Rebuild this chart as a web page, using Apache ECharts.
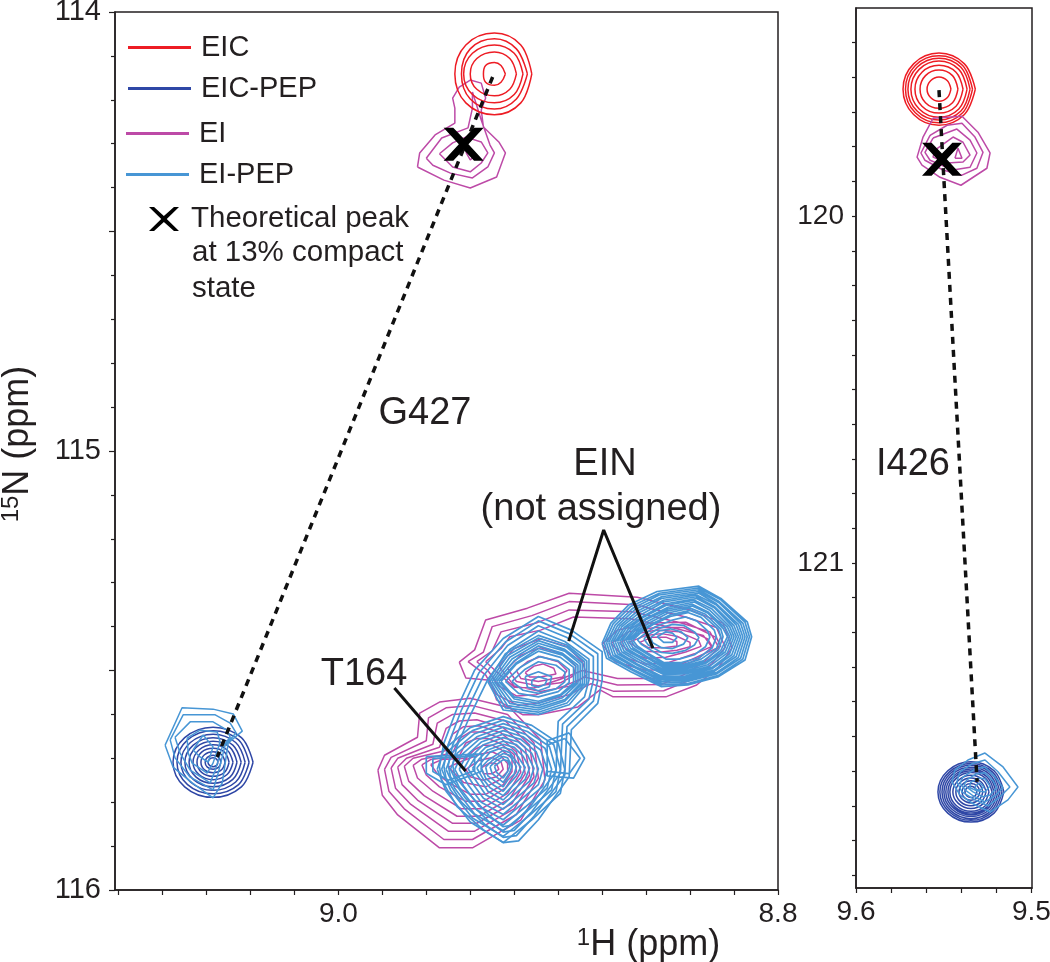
<!DOCTYPE html>
<html><head><meta charset="utf-8">
<style>html,body{margin:0;padding:0;background:#fff}#c{width:1050px;height:962px}</style>
<script src="https://cdn.jsdelivr.net/npm/echarts@6/dist/echarts.min.js"></script>
</head><body><div id="c"></div>
<script>
// All contours are [1H ppm, 15N ppm] vertices.
const eicLeft=[
[[8.924,114.141],[8.926,114.122],[8.929,114.115],[8.933,114.122],[8.934,114.141],[8.933,114.160],[8.929,114.167],[8.926,114.160]],
[[8.919,114.141],[8.922,114.106],[8.929,114.091],[8.937,114.106],[8.940,114.141],[8.937,114.176],[8.929,114.191],[8.922,114.176]],
[[8.916,114.141],[8.920,114.094],[8.929,114.075],[8.939,114.094],[8.943,114.141],[8.939,114.188],[8.929,114.207],[8.920,114.188]],
[[8.914,114.141],[8.919,114.084],[8.929,114.061],[8.940,114.084],[8.944,114.141],[8.940,114.198],[8.929,114.221],[8.919,114.198]],
[[8.912,114.141],[8.917,114.075],[8.929,114.048],[8.942,114.075],[8.947,114.141],[8.942,114.207],[8.929,114.234],[8.917,114.207]]];
const eiLeftPeak=[
[[8.964,114.353],[8.963,114.321],[8.956,114.280],[8.947,114.253],[8.947,114.219],[8.948,114.196],[8.945,114.171],[8.940,114.155],[8.935,114.162],[8.933,114.196],[8.935,114.223],[8.934,114.262],[8.927,114.296],[8.924,114.321],[8.928,114.376],[8.940,114.401],[8.952,114.383]],
[[8.960,114.333],[8.953,114.287],[8.941,114.264],[8.939,114.219],[8.939,114.182],[8.935,114.246],[8.931,114.303],[8.929,114.321],[8.932,114.353],[8.939,114.378],[8.949,114.367],[8.957,114.349]],
[[8.954,114.323],[8.948,114.298],[8.942,114.285],[8.935,114.296],[8.932,114.321],[8.935,114.344],[8.940,114.364],[8.948,114.353]],
[[8.942,114.319],[8.940,114.337],[8.938,114.328],[8.941,114.310]]];
const eicPepLeft=[
[[9.0388,115.709],[9.0441,115.653],[9.0570,115.629],[9.0699,115.653],[9.0752,115.709],[9.0699,115.765],[9.0570,115.789],[9.0441,115.765]],
[[9.0406,115.709],[9.0454,115.658],[9.0570,115.637],[9.0686,115.658],[9.0734,115.709],[9.0686,115.760],[9.0570,115.781],[9.0454,115.760]],
[[9.0424,115.709],[9.0467,115.664],[9.0570,115.645],[9.0673,115.664],[9.0716,115.709],[9.0673,115.754],[9.0570,115.773],[9.0467,115.754]],
[[9.0442,115.709],[9.0480,115.670],[9.0570,115.653],[9.0660,115.670],[9.0698,115.709],[9.0660,115.748],[9.0570,115.765],[9.0480,115.748]],
[[9.0461,115.709],[9.0493,115.675],[9.0570,115.661],[9.0647,115.675],[9.0679,115.709],[9.0647,115.743],[9.0570,115.757],[9.0493,115.743]],
[[9.0479,115.709],[9.0506,115.681],[9.0570,115.669],[9.0634,115.681],[9.0661,115.709],[9.0634,115.737],[9.0570,115.749],[9.0506,115.737]],
[[9.0497,115.709],[9.0518,115.686],[9.0570,115.677],[9.0622,115.686],[9.0643,115.709],[9.0622,115.732],[9.0570,115.741],[9.0518,115.732]],
[[9.0515,115.709],[9.0531,115.692],[9.0570,115.685],[9.0609,115.692],[9.0625,115.709],[9.0609,115.726],[9.0570,115.733],[9.0531,115.726]],
[[9.0534,115.709],[9.0544,115.698],[9.0570,115.693],[9.0596,115.698],[9.0606,115.709],[9.0596,115.720],[9.0570,115.725],[9.0544,115.720]],
[[9.0547,115.709],[9.0554,115.702],[9.0570,115.699],[9.0586,115.702],[9.0593,115.709],[9.0586,115.716],[9.0570,115.719],[9.0554,115.716]]];
const eiPepLeftPeak=[
[[9.0788,115.670],[9.0711,115.585],[9.0570,115.588],[9.0478,115.599],[9.0437,115.638],[9.0501,115.665],[9.0528,115.756],[9.0570,115.790],[9.0665,115.756],[9.0752,115.720]],
[[9.0765,115.658],[9.0706,115.601],[9.0560,115.601],[9.0492,115.620],[9.0465,115.642],[9.0515,115.670],[9.0547,115.734],[9.0570,115.772],[9.0674,115.743],[9.0743,115.699]],
[[9.0743,115.652],[9.0674,115.617],[9.0570,115.617],[9.0506,115.636],[9.0492,115.652],[9.0528,115.674],[9.0560,115.727],[9.0583,115.756],[9.0674,115.727],[9.0720,115.688]],
[[9.0688,115.654],[9.0629,115.636],[9.0551,115.640],[9.0538,115.663],[9.0570,115.711],[9.0597,115.734],[9.0665,115.711],[9.0683,115.688]],
[[9.0661,115.681],[9.0615,115.647],[9.0570,115.674],[9.0592,115.709],[9.0629,115.697]]];
const eiT164=[
[[8.982,115.727],[8.979,115.693],[8.964,115.652],[8.963,115.597],[8.954,115.572],[8.940,115.563],[8.922,115.585],[8.908,115.658],[8.906,115.749],[8.917,115.841],[8.939,115.904],[8.954,115.904],[8.973,115.829],[8.980,115.784]],
[[8.979,115.725],[8.976,115.698],[8.960,115.660],[8.959,115.608],[8.951,115.585],[8.939,115.580],[8.923,115.600],[8.911,115.665],[8.909,115.745],[8.919,115.828],[8.939,115.885],[8.952,115.885],[8.970,115.815],[8.977,115.775]],
[[8.976,115.722],[8.973,115.700],[8.957,115.668],[8.955,115.620],[8.948,115.600],[8.938,115.597],[8.924,115.615],[8.913,115.670],[8.911,115.742],[8.920,115.815],[8.938,115.866],[8.950,115.866],[8.967,115.805],[8.974,115.768]],
[[8.973,115.720],[8.969,115.700],[8.954,115.675],[8.951,115.632],[8.945,115.615],[8.937,115.612],[8.925,115.630],[8.915,115.675],[8.913,115.738],[8.921,115.803],[8.937,115.848],[8.948,115.848],[8.964,115.795],[8.971,115.760]],
[[8.970,115.718],[8.966,115.700],[8.951,115.682],[8.948,115.645],[8.943,115.628],[8.936,115.626],[8.926,115.642],[8.917,115.680],[8.915,115.735],[8.922,115.792],[8.936,115.832],[8.946,115.832],[8.961,115.785],[8.968,115.752]],
[[8.966,115.716],[8.962,115.702],[8.948,115.688],[8.945,115.655],[8.940,115.640],[8.934,115.640],[8.926,115.655],[8.919,115.685],[8.917,115.732],[8.923,115.780],[8.935,115.815],[8.944,115.815],[8.957,115.775],[8.964,115.745]],
[[8.962,115.715],[8.958,115.703],[8.945,115.695],[8.942,115.665],[8.937,115.655],[8.932,115.655],[8.926,115.667],[8.920,115.692],[8.919,115.730],[8.924,115.768],[8.934,115.798],[8.942,115.798],[8.954,115.765],[8.960,115.738]],
[[8.958,115.714],[8.953,115.703],[8.942,115.700],[8.938,115.680],[8.934,115.670],[8.930,115.670],[8.926,115.680],[8.921,115.700],[8.921,115.730],[8.925,115.760],[8.933,115.782],[8.940,115.782],[8.950,115.755],[8.955,115.735]],
[[8.950,115.720],[8.943,115.705],[8.935,115.690],[8.930,115.685],[8.926,115.695],[8.923,115.712],[8.923,115.730],[8.927,115.750],[8.933,115.765],[8.943,115.755]],
[[8.942,115.725],[8.936,115.705],[8.930,115.698],[8.926,115.708],[8.925,115.725],[8.928,115.742],[8.934,115.750],[8.940,115.742]],
[[8.935,115.722],[8.931,115.710],[8.928,115.713],[8.927,115.725],[8.930,115.735],[8.934,115.735]]];
const eiUpper=[
[[8.945,115.481],[8.938,115.453],[8.933,115.385],[8.914,115.358],[8.895,115.324],[8.864,115.333],[8.840,115.362],[8.825,115.392],[8.821,115.449],[8.827,115.492],[8.837,115.533],[8.851,115.560],[8.875,115.560],[8.881,115.544],[8.891,115.583],[8.909,115.601],[8.916,115.601],[8.928,115.567],[8.931,115.522],[8.942,115.517]],
[[8.941,115.480],[8.934,115.458],[8.930,115.400],[8.912,115.375],[8.895,115.343],[8.865,115.350],[8.842,115.378],[8.828,115.402],[8.824,115.447],[8.830,115.484],[8.840,115.522],[8.852,115.546],[8.875,115.547],[8.885,115.530],[8.895,115.555],[8.910,115.575],[8.918,115.580],[8.928,115.555],[8.933,115.510]],
[[8.937,115.480],[8.930,115.455],[8.926,115.412],[8.910,115.392],[8.895,115.362],[8.866,115.366],[8.844,115.392],[8.831,115.412],[8.827,115.447],[8.833,115.478],[8.843,115.510],[8.853,115.532],[8.873,115.533],[8.888,115.515],[8.897,115.535],[8.910,115.555],[8.919,115.558],[8.927,115.535],[8.932,115.500]],
[[8.933,115.480],[8.926,115.450],[8.922,115.423],[8.908,115.408],[8.893,115.378],[8.867,115.382],[8.846,115.405],[8.834,115.420],[8.830,115.447],[8.836,115.472],[8.846,115.498],[8.855,115.518],[8.873,115.518],[8.889,115.500],[8.899,115.520],[8.911,115.540],[8.920,115.538],[8.926,115.512]],
[[8.927,115.490],[8.920,115.450],[8.908,115.428],[8.896,115.445],[8.889,115.480],[8.887,115.510],[8.894,115.535],[8.908,115.548],[8.920,115.535]],
[[8.923,115.495],[8.917,115.465],[8.908,115.448],[8.898,115.462],[8.892,115.490],[8.893,115.512],[8.899,115.528],[8.909,115.535],[8.919,115.525]],
[[8.919,115.500],[8.914,115.480],[8.908,115.468],[8.900,115.480],[8.896,115.500],[8.898,115.515],[8.909,115.525],[8.917,115.518]],
[[8.915,115.505],[8.911,115.490],[8.907,115.485],[8.902,115.495],[8.901,115.508],[8.908,115.515],[8.913,115.515]],
[[8.880,115.440],[8.873,115.408],[8.858,115.392],[8.842,115.390],[8.828,115.425],[8.826,115.445],[8.835,115.465],[8.848,115.495],[8.860,115.500],[8.874,115.480]],
[[8.876,115.438],[8.868,115.412],[8.856,115.402],[8.843,115.402],[8.832,115.428],[8.830,115.445],[8.838,115.462],[8.850,115.482],[8.860,115.486],[8.870,115.470]],
[[8.872,115.437],[8.864,115.416],[8.855,115.408],[8.845,115.412],[8.836,115.432],[8.835,115.445],[8.842,115.458],[8.851,115.470],[8.860,115.472],[8.867,115.460]],
[[8.868,115.436],[8.860,115.420],[8.853,115.416],[8.846,115.422],[8.840,115.436],[8.840,115.446],[8.846,115.454],[8.853,115.458],[8.861,115.456]],
[[8.863,115.436],[8.857,115.424],[8.851,115.424],[8.846,115.434],[8.846,115.444],[8.852,115.448],[8.859,115.448]]];
const eiPepEnvelope=[
[[8.954,115.719],[8.952,115.666],[8.946,115.586],[8.938,115.499],[8.925,115.427],[8.909,115.377],[8.894,115.408],[8.880,115.457],[8.880,115.522],[8.882,115.575],[8.894,115.635],[8.895,115.742],[8.909,115.840],[8.918,115.888],[8.925,115.892],[8.934,115.863],[8.946,115.810],[8.953,115.749]],
[[8.952,115.718],[8.950,115.668],[8.944,115.590],[8.936,115.505],[8.924,115.435],[8.909,115.387],[8.895,115.416],[8.882,115.462],[8.882,115.522],[8.884,115.570],[8.896,115.628],[8.897,115.738],[8.911,115.832],[8.919,115.876],[8.925,115.880],[8.933,115.852],[8.944,115.800],[8.951,115.745]],
[[8.950,115.716],[8.948,115.670],[8.942,115.596],[8.934,115.512],[8.923,115.443],[8.909,115.398],[8.896,115.425],[8.884,115.468],[8.884,115.522],[8.886,115.565],[8.898,115.622],[8.899,115.734],[8.912,115.822],[8.920,115.864],[8.925,115.868],[8.932,115.842],[8.942,115.792],[8.949,115.742]],
[[8.948,115.715],[8.946,115.672],[8.940,115.602],[8.932,115.520],[8.922,115.452],[8.909,115.410],[8.897,115.434],[8.886,115.474],[8.886,115.522],[8.888,115.560],[8.900,115.616],[8.901,115.730],[8.913,115.812],[8.921,115.852],[8.925,115.856],[8.931,115.832],[8.940,115.784],[8.947,115.740]]];
const eiPepT164=[
[[8.955,115.725],[8.952,115.680],[8.940,115.630],[8.925,115.605],[8.912,115.625],[8.900,115.665],[8.897,115.725],[8.899,115.780],[8.912,115.840],[8.925,115.892],[8.940,115.845],[8.951,115.775]],
[[8.953,115.725],[8.950,115.683],[8.939,115.637],[8.925,115.613],[8.913,115.632],[8.902,115.669],[8.899,115.725],[8.901,115.776],[8.913,115.830],[8.925,115.878],[8.939,115.836],[8.949,115.772]],
[[8.951,115.725],[8.948,115.686],[8.938,115.644],[8.925,115.621],[8.914,115.639],[8.904,115.673],[8.901,115.725],[8.903,115.772],[8.914,115.820],[8.925,115.865],[8.938,115.827],[8.947,115.769]],
[[8.949,115.725],[8.946,115.689],[8.937,115.651],[8.925,115.629],[8.915,115.645],[8.906,115.677],[8.903,115.725],[8.905,115.768],[8.915,115.811],[8.925,115.852],[8.937,115.818],[8.945,115.766]],
[[8.947,115.725],[8.944,115.692],[8.936,115.657],[8.925,115.637],[8.916,115.651],[8.908,115.681],[8.905,115.725],[8.907,115.764],[8.916,115.802],[8.925,115.840],[8.936,115.809],[8.943,115.763]],
[[8.945,115.725],[8.942,115.695],[8.935,115.663],[8.925,115.645],[8.917,115.657],[8.910,115.685],[8.907,115.725],[8.909,115.760],[8.917,115.794],[8.925,115.828],[8.935,115.800],[8.941,115.760]],
[[8.943,115.725],[8.940,115.698],[8.934,115.669],[8.925,115.653],[8.918,115.663],[8.912,115.689],[8.909,115.724],[8.911,115.756],[8.918,115.786],[8.925,115.816],[8.934,115.791],[8.939,115.757]],
[[8.941,115.724],[8.938,115.700],[8.933,115.675],[8.925,115.661],[8.919,115.669],[8.914,115.692],[8.911,115.723],[8.913,115.752],[8.919,115.778],[8.925,115.805],[8.933,115.783],[8.937,115.754]],
[[8.939,115.723],[8.936,115.702],[8.932,115.681],[8.925,115.668],[8.920,115.675],[8.916,115.695],[8.913,115.722],[8.915,115.748],[8.920,115.771],[8.925,115.795],[8.932,115.775],[8.935,115.751]],
[[8.937,115.722],[8.934,115.704],[8.931,115.686],[8.925,115.675],[8.921,115.681],[8.918,115.698],[8.915,115.721],[8.917,115.744],[8.921,115.764],[8.925,115.785],[8.931,115.767],[8.934,115.748]],
[[8.935,115.721],[8.932,115.705],[8.925,115.682],[8.922,115.687],[8.920,115.701],[8.917,115.720],[8.919,115.740],[8.922,115.757],[8.925,115.775],[8.930,115.759],[8.933,115.745]],
[[8.933,115.720],[8.930,115.705],[8.925,115.689],[8.922,115.693],[8.919,115.719],[8.920,115.736],[8.923,115.750],[8.925,115.765],[8.929,115.751],[8.932,115.740]],
[[8.931,115.719],[8.928,115.705],[8.925,115.696],[8.923,115.699],[8.921,115.718],[8.922,115.732],[8.925,115.755],[8.928,115.743],[8.930,115.735]],
[[8.929,115.718],[8.925,115.703],[8.923,115.706],[8.922,115.718],[8.923,115.730],[8.925,115.745],[8.928,115.732]],
[[8.960,115.696],[8.960,115.734],[8.951,115.760],[8.935,115.730],[8.935,115.690]],
[[8.957,115.700],[8.957,115.730],[8.950,115.750],[8.938,115.728],[8.938,115.695]],
[[8.895,115.642],[8.888,115.700],[8.893,115.745],[8.905,115.740],[8.905,115.660]],
[[8.897,115.655],[8.890,115.700],[8.895,115.735],[8.905,115.730],[8.905,115.670]]];
const eiPepMiddle=[
[[8.932,115.525],[8.924,115.462],[8.909,115.420],[8.896,115.442],[8.887,115.478],[8.887,115.530],[8.895,115.578],[8.909,115.600],[8.925,115.590]],
[[8.931,115.525],[8.923,115.466],[8.909,115.426],[8.896,115.447],[8.888,115.480],[8.888,115.530],[8.896,115.574],[8.909,115.595],[8.924,115.585]],
[[8.930,115.525],[8.922,115.470],[8.909,115.432],[8.897,115.452],[8.889,115.483],[8.889,115.530],[8.897,115.570],[8.909,115.590],[8.923,115.580]],
[[8.929,115.525],[8.921,115.474],[8.909,115.438],[8.897,115.456],[8.890,115.485],[8.890,115.530],[8.897,115.566],[8.909,115.585],[8.922,115.575]],
[[8.928,115.525],[8.920,115.478],[8.909,115.444],[8.898,115.461],[8.891,115.488],[8.891,115.529],[8.898,115.562],[8.909,115.580],[8.921,115.570]],
[[8.927,115.525],[8.919,115.482],[8.909,115.450],[8.898,115.465],[8.892,115.490],[8.892,115.529],[8.899,115.558],[8.909,115.575],[8.920,115.565]],
[[8.926,115.525],[8.919,115.485],[8.909,115.456],[8.899,115.470],[8.893,115.493],[8.893,115.528],[8.899,115.555],[8.909,115.570],[8.920,115.560]],
[[8.924,115.525],[8.917,115.492],[8.909,115.468],[8.900,115.478],[8.895,115.498],[8.895,115.527],[8.900,115.548],[8.909,115.560],[8.918,115.552]],
[[8.921,115.525],[8.915,115.497],[8.909,115.480],[8.901,115.488],[8.897,115.503],[8.897,115.526],[8.901,115.542],[8.909,115.552],[8.916,115.545]],
[[8.915,115.514],[8.909,115.503],[8.903,115.514],[8.904,115.537],[8.909,115.546],[8.914,115.538]],
[[8.912,115.522],[8.909,115.514],[8.905,115.520],[8.906,115.532],[8.909,115.538],[8.912,115.534]]];
const eiPepRight=[
[[8.880,115.438],[8.876,115.392],[8.868,115.351],[8.855,115.320],[8.836,115.308],[8.826,115.336],[8.814,115.389],[8.812,115.423],[8.815,115.476],[8.827,115.514],[8.841,115.533],[8.853,115.537],[8.867,115.503],[8.878,115.472]],
[[8.879,115.437],[8.875,115.394],[8.867,115.354],[8.854,115.324],[8.836,115.312],[8.826,115.339],[8.815,115.390],[8.813,115.423],[8.816,115.474],[8.827,115.511],[8.841,115.530],[8.853,115.533],[8.866,115.500],[8.877,115.470]],
[[8.878,115.437],[8.874,115.396],[8.866,115.358],[8.854,115.328],[8.836,115.316],[8.827,115.342],[8.816,115.392],[8.814,115.423],[8.817,115.472],[8.828,115.508],[8.842,115.526],[8.853,115.529],[8.866,115.497],[8.876,115.468]],
[[8.877,115.436],[8.873,115.398],[8.865,115.361],[8.853,115.332],[8.836,115.320],[8.827,115.345],[8.817,115.393],[8.815,115.423],[8.818,115.470],[8.828,115.505],[8.842,115.522],[8.853,115.525],[8.865,115.494],[8.875,115.466]],
[[8.876,115.436],[8.872,115.399],[8.864,115.365],[8.853,115.336],[8.836,115.324],[8.828,115.348],[8.818,115.395],[8.816,115.423],[8.819,115.468],[8.829,115.502],[8.842,115.519],[8.853,115.521],[8.865,115.491],[8.874,115.464]],
[[8.875,115.435],[8.871,115.400],[8.863,115.368],[8.852,115.340],[8.837,115.328],[8.828,115.351],[8.819,115.396],[8.817,115.423],[8.820,115.466],[8.829,115.499],[8.842,115.515],[8.853,115.517],[8.864,115.488],[8.873,115.462]],
[[8.874,115.435],[8.870,115.402],[8.862,115.372],[8.852,115.344],[8.837,115.332],[8.829,115.354],[8.820,115.398],[8.818,115.423],[8.821,115.464],[8.830,115.496],[8.842,115.512],[8.853,115.513],[8.864,115.485],[8.872,115.460]],
[[8.873,115.434],[8.869,115.403],[8.861,115.375],[8.851,115.348],[8.837,115.336],[8.829,115.357],[8.821,115.399],[8.819,115.423],[8.822,115.462],[8.830,115.493],[8.842,115.508],[8.852,115.509],[8.863,115.482],[8.871,115.458]],
[[8.872,115.434],[8.868,115.405],[8.861,115.378],[8.851,115.352],[8.838,115.340],[8.830,115.360],[8.822,115.400],[8.820,115.423],[8.823,115.460],[8.831,115.490],[8.842,115.505],[8.852,115.505],[8.862,115.479],[8.870,115.456]],
[[8.871,115.433],[8.867,115.406],[8.860,115.381],[8.850,115.356],[8.838,115.344],[8.831,115.363],[8.823,115.401],[8.821,115.423],[8.824,115.458],[8.832,115.487],[8.842,115.501],[8.852,115.501],[8.861,115.476],[8.869,115.454]],
[[8.870,115.433],[8.866,115.408],[8.860,115.384],[8.850,115.360],[8.839,115.349],[8.832,115.366],[8.824,115.403],[8.822,115.423],[8.825,115.456],[8.833,115.484],[8.843,115.498],[8.852,115.498],[8.861,115.473],[8.868,115.452]],
[[8.869,115.432],[8.865,115.409],[8.859,115.387],[8.850,115.364],[8.839,115.353],[8.832,115.369],[8.825,115.404],[8.823,115.423],[8.826,115.454],[8.833,115.481],[8.843,115.494],[8.852,115.494],[8.860,115.470],[8.867,115.450]],
[[8.868,115.432],[8.864,115.410],[8.858,115.390],[8.850,115.369],[8.840,115.358],[8.833,115.372],[8.826,115.406],[8.825,115.423],[8.827,115.452],[8.834,115.478],[8.843,115.490],[8.852,115.490],[8.860,115.467],[8.866,115.448]],
[[8.867,115.431],[8.863,115.411],[8.857,115.393],[8.849,115.373],[8.840,115.363],[8.834,115.375],[8.827,115.407],[8.826,115.423],[8.828,115.450],[8.835,115.474],[8.843,115.486],[8.852,115.486],[8.859,115.464],[8.865,115.446]],
[[8.866,115.431],[8.862,115.412],[8.857,115.396],[8.849,115.377],[8.841,115.368],[8.835,115.379],[8.829,115.408],[8.828,115.424],[8.830,115.449],[8.836,115.471],[8.844,115.482],[8.852,115.482],[8.859,115.461],[8.864,115.444]],
[[8.864,115.430],[8.860,115.414],[8.856,115.401],[8.848,115.385],[8.842,115.378],[8.837,115.387],[8.832,115.410],[8.831,115.424],[8.833,115.446],[8.838,115.464],[8.845,115.474],[8.851,115.474],[8.857,115.456],[8.862,115.441]],
[[8.861,115.428],[8.858,115.415],[8.854,115.404],[8.848,115.395],[8.843,115.397],[8.838,115.412],[8.836,115.425],[8.838,115.442],[8.842,115.454],[8.848,115.461],[8.853,115.459],[8.859,115.442]],
[[8.858,115.425],[8.854,115.410],[8.849,115.405],[8.844,115.412],[8.841,115.425],[8.843,115.440],[8.848,115.450],[8.853,115.448],[8.857,115.437]],
[[8.855,115.423],[8.851,115.412],[8.848,115.415],[8.846,115.425],[8.848,115.436],[8.852,115.436]]];
const eicRight=[
[[9.5320,119.634],[9.5382,119.561],[9.5527,119.530],[9.5672,119.561],[9.5732,119.634],[9.5672,119.707],[9.5527,119.738],[9.5382,119.707]],
[[9.5336,119.634],[9.5392,119.566],[9.5527,119.538],[9.5662,119.566],[9.5718,119.634],[9.5662,119.702],[9.5527,119.731],[9.5392,119.702]],
[[9.5350,119.634],[9.5402,119.571],[9.5527,119.545],[9.5652,119.571],[9.5704,119.634],[9.5652,119.697],[9.5527,119.723],[9.5402,119.697]],
[[9.5367,119.634],[9.5414,119.577],[9.5527,119.553],[9.5640,119.577],[9.5687,119.634],[9.5640,119.691],[9.5527,119.715],[9.5414,119.691]],
[[9.5390,119.634],[9.5430,119.585],[9.5527,119.565],[9.5624,119.585],[9.5664,119.634],[9.5624,119.683],[9.5527,119.703],[9.5430,119.683]],
[[9.5419,119.634],[9.5450,119.595],[9.5527,119.579],[9.5604,119.595],[9.5635,119.634],[9.5604,119.673],[9.5527,119.689],[9.5450,119.673]],
[[9.5459,119.634],[9.5479,119.610],[9.5527,119.599],[9.5575,119.610],[9.5595,119.634],[9.5575,119.658],[9.5527,119.669],[9.5479,119.658]]];
const eiRightPeak=[
[[9.5561,119.718],[9.5396,119.712],[9.5305,119.758],[9.5236,119.818],[9.5254,119.862],[9.5402,119.911],[9.5521,119.888],[9.5624,119.853],[9.5652,119.830],[9.5618,119.772]],
[[9.5578,119.767],[9.5481,119.738],[9.5396,119.732],[9.5322,119.772],[9.5276,119.816],[9.5311,119.862],[9.5396,119.882],[9.5504,119.867],[9.5607,119.839],[9.5630,119.818]],
[[9.5561,119.775],[9.5425,119.749],[9.5350,119.781],[9.5311,119.818],[9.5350,119.859],[9.5447,119.867],[9.5578,119.839],[9.5607,119.816]],
[[9.5550,119.810],[9.5447,119.772],[9.5390,119.787],[9.5350,119.824],[9.5390,119.844],[9.5481,119.847],[9.5561,119.830]],
[[9.5436,119.833],[9.5419,119.804],[9.5396,119.833]]];
const eicPepRight=[
[[9.5157,121.660],[9.5213,121.599],[9.5345,121.573],[9.5477,121.599],[9.5533,121.660],[9.5477,121.721],[9.5345,121.747],[9.5213,121.721]],
[[9.5168,121.660],[9.5221,121.603],[9.5345,121.578],[9.5469,121.603],[9.5522,121.660],[9.5469,121.717],[9.5345,121.742],[9.5221,121.717]],
[[9.5180,121.660],[9.5229,121.606],[9.5345,121.583],[9.5461,121.606],[9.5510,121.660],[9.5461,121.714],[9.5345,121.737],[9.5229,121.714]],
[[9.5191,121.660],[9.5237,121.610],[9.5345,121.589],[9.5453,121.610],[9.5499,121.660],[9.5453,121.710],[9.5345,121.731],[9.5237,121.710]],
[[9.5202,121.660],[9.5245,121.614],[9.5345,121.594],[9.5445,121.614],[9.5488,121.660],[9.5445,121.706],[9.5345,121.726],[9.5245,121.706]],
[[9.5214,121.660],[9.5253,121.617],[9.5345,121.599],[9.5437,121.617],[9.5476,121.660],[9.5437,121.703],[9.5345,121.721],[9.5253,121.703]],
[[9.5225,121.660],[9.5261,121.621],[9.5345,121.604],[9.5429,121.621],[9.5465,121.660],[9.5429,121.699],[9.5345,121.716],[9.5261,121.699]],
[[9.5242,121.660],[9.5273,121.627],[9.5345,121.612],[9.5417,121.627],[9.5448,121.660],[9.5417,121.693],[9.5345,121.708],[9.5273,121.693]],
[[9.5259,121.660],[9.5285,121.632],[9.5345,121.620],[9.5405,121.632],[9.5431,121.660],[9.5405,121.688],[9.5345,121.700],[9.5285,121.688]],
[[9.5277,121.660],[9.5297,121.638],[9.5345,121.628],[9.5393,121.638],[9.5413,121.660],[9.5393,121.682],[9.5345,121.692],[9.5297,121.682]],
[[9.5294,121.660],[9.5309,121.643],[9.5345,121.636],[9.5381,121.643],[9.5396,121.660],[9.5381,121.677],[9.5345,121.684],[9.5309,121.677]],
[[9.5311,121.660],[9.5321,121.649],[9.5345,121.644],[9.5369,121.649],[9.5379,121.660],[9.5369,121.671],[9.5345,121.676],[9.5321,121.671]]];
const eiPepRightPeak=[
[[9.5436,121.597],[9.5362,121.568],[9.5265,121.548],[9.5162,121.588],[9.5077,121.646],[9.5134,121.683],[9.5236,121.718],[9.5322,121.697],[9.5407,121.669],[9.5453,121.631]],
[[9.5407,121.602],[9.5339,121.579],[9.5265,121.568],[9.5191,121.602],[9.5123,121.646],[9.5179,121.674],[9.5248,121.700],[9.5322,121.683],[9.5396,121.660],[9.5425,121.631]],
[[9.5390,121.617],[9.5322,121.594],[9.5265,121.588],[9.5208,121.617],[9.5162,121.648],[9.5208,121.671],[9.5265,121.689],[9.5333,121.671],[9.5379,121.654],[9.5407,121.634]],
[[9.5368,121.625],[9.5316,121.608],[9.5265,121.605],[9.5219,121.628],[9.5197,121.648],[9.5236,121.669],[9.5276,121.674],[9.5333,121.660],[9.5385,121.640]],
[[9.5350,121.634],[9.5305,121.620],[9.5265,121.622],[9.5236,121.643],[9.5265,121.660],[9.5311,121.657],[9.5350,121.648]],
[[9.5322,121.643],[9.5293,121.634],[9.5271,121.646],[9.5293,121.654],[9.5316,121.654]]];
const g427Path=[[8.9298,114.148],[9.0551,115.697]];
const i426Path=[[9.5527,119.637],[9.5310,121.631]];
const leaderT164=[[8.9745,115.540],[8.9421,115.729]];
const leaderEIN=[[8.8952,115.433],[8.8793,115.180],[8.8569,115.449]];
const theoLeft=[[8.943,114.301]];
const theoRight=[[9.551,119.836]];
const xTicksLeft=[9.1,9.08,9.06,9.04,9.02,9.0,8.98,8.96,8.94,8.92,8.9,8.88,8.86,8.84,8.82,8.8];
const xLabelsLeft=[9.0,8.8];
const yLabelsLeft=[114,115,116];
const xTicksRight=[9.6,9.58,9.56,9.54,9.52,9.5];
const xLabelsRight=[9.6,9.5];
const yTicksRight=[119.5,119.6,119.7,119.8,119.9,120,120.1,120.2,120.3,120.4,120.5,120.6,120.7,120.8,120.9,121,121.1,121.2,121.3,121.4,121.5,121.6,121.7,121.8,121.9];
const yLabelsRight=[120,121];

const C={eic:'#ed1c24',eicpep:'#2f47a6',ei:'#bd4aa7',eipep:'#4796d5',ink:'#231f20'};
const FONT='"Liberation Sans",Arial,sans-serif';
const X_BOLD='path://M0 0L24 0L50 33L76 0L100 0L62 50L100 100L76 100L50 67L24 100L0 100L38 50Z';
const X_THIN='path://M0 0L21 0L62 38L104 0L125 0L74 50L125 100L104 100L62 62L21 100L0 100L51 50Z';
const N_EIC='EIC',N_EICPEP='EIC-PEP',N_EI='EI',N_EIPEP='EI-PEP',N_X='Theoretical peak';

function path(rings){const out=[];rings.forEach(r=>{r.forEach(p=>out.push(p));out.push(r[0]);out.push([null,null]);});return out;}
function contour(name,color,rings,idx,smooth,w){return {type:'line',name,xAxisIndex:idx,yAxisIndex:idx,data:path(rings),color,
  showSymbol:false,symbol:'none',smooth:smooth?0.375:false,connectNulls:false,silent:true,animation:false,clip:true,
  lineStyle:{color,width:w||1.5},itemStyle:{color}};}
function dashed(data,idx){return {type:'line',xAxisIndex:idx,yAxisIndex:idx,data,showSymbol:false,symbol:'none',silent:true,animation:false,
  lineStyle:{color:'#111',width:3.5,type:[7,6]},z:5};}
function leader(data){return {type:'line',xAxisIndex:0,yAxisIndex:0,data,showSymbol:false,symbol:'none',silent:true,animation:false,
  lineStyle:{color:'#111',width:3},z:5};}
function theo(data,idx){return {type:'scatter',name:N_X,xAxisIndex:idx,yAxisIndex:idx,data,symbol:X_BOLD,symbolSize:[40,33],silent:true,animation:false,
  itemStyle:{color:'#000',opacity:1},z:6};}
const rich={s:{fontFamily:FONT,fontSize:24,color:C.ink,verticalAlign:'top',padding:[0,0,14,0]},n:{fontFamily:FONT,fontSize:36,color:C.ink}};
function xAxis(gi,min,max,ticks,labels,nameCfg){return Object.assign({type:'value',gridIndex:gi,inverse:true,min,max,splitLine:{show:false},
  axisLine:{show:true,onZero:false,lineStyle:{color:C.ink,width:1.5}},
  axisTick:{show:true,length:5,customValues:ticks,lineStyle:{color:C.ink,width:1.2}},
  axisLabel:{customValues:labels,hideOverlap:false,showMinLabel:true,showMaxLabel:true,margin:10,fontSize:28,fontFamily:FONT,color:C.ink,formatter:v=>Number(v).toFixed(1)}},nameCfg||{});}
function yAxisLeft(nameCfg){return Object.assign({type:'value',gridIndex:0,inverse:true,min:114,max:116,interval:0.5,splitLine:{show:false},
  axisLine:{show:true,onZero:false,lineStyle:{color:C.ink,width:1.5}},
  axisTick:{show:true,length:6,lineStyle:{color:C.ink,width:1.2}},
  minorTick:{show:true,splitNumber:5,length:4,lineStyle:{color:C.ink,width:1.2}},
  axisLabel:{customValues:yLabelsLeft,hideOverlap:false,margin:14,fontSize:29,fontFamily:FONT,color:C.ink,formatter:v=>String(v)}},nameCfg);}
function yAxisRight(){return {type:'value',gridIndex:1,inverse:true,min:119.4,max:121.937,splitLine:{show:false},
  axisLine:{show:true,onZero:false,lineStyle:{color:C.ink,width:1.5}},
  axisTick:{show:true,length:4,customValues:yTicksRight,lineStyle:{color:C.ink,width:1.2}},
  axisLabel:{customValues:yLabelsRight,hideOverlap:false,margin:12,fontSize:28,fontFamily:FONT,color:C.ink,formatter:v=>String(v)}};}

function legendRow(name,top,left,icon,w,h,pad,size){return {data:[{name,icon}],left,top,itemWidth:w,itemHeight:h,itemGap:0,padding:0,selectedMode:false,orient:'horizontal',
  textStyle:{fontFamily:FONT,fontSize:size||29,color:C.ink,padding:[0,0,0,pad]}};}
function tx(text,x,y,size){return {type:'text',x,y,silent:true,style:{text,x:0,y:0,fontFamily:FONT,fontSize:size||38,fill:C.ink,textAlign:'center',textVerticalAlign:'middle'}};}

const option={backgroundColor:'#fff',animation:false,
 grid:[{left:115,top:12,width:663,height:878,outerBoundsMode:'none',containLabel:false,show:true,borderColor:C.ink,borderWidth:1.5,backgroundColor:'transparent'},
       {left:856,top:8,width:176,height:880,outerBoundsMode:'none',containLabel:false,show:true,borderColor:C.ink,borderWidth:1.5,backgroundColor:'transparent'}],
 xAxis:[xAxis(0,8.8,9.1016,xTicksLeft,xLabelsLeft,{name:'{s|1}{n|H (ppm)}',nameLocation:'middle',nameGap:36,nameMoveOverlap:false,nameTextStyle:{rich,padding:[0,0,0,404]}}),
        xAxis(1,9.4997,9.6,xTicksRight,xLabelsRight)],
 yAxis:[yAxisLeft({name:'{s|15}{n|N (ppm)}',nameLocation:'middle',nameRotate:90,nameGap:78,nameTextStyle:{rich,padding:[0,0,0,14]}}),yAxisRight()],
 legend:[legendRow(N_EIC,33,128,'rect',63,3,5),legendRow(N_EICPEP,74,128,'rect',63,3,5),legendRow(N_EI,119,126,'rect',63,3,5),legendRow(N_EIPEP,160,126,'rect',63,3,5),legendRow(N_X,204,149,X_THIN,30,24,7,29.5)],
 graphic:[tx('G427',425,414),tx('I426',913,465),tx('EIN',605,465),tx('(not assigned)',601,510),tx('T164',364,675),
   {type:'text',x:192,y:235,silent:true,style:{text:'at 13% compact\nstate',fontFamily:FONT,fontSize:29.5,lineHeight:36,fill:C.ink}}],
 series:[
  contour(N_EI,C.ei,eiLeftPeak,0),contour(N_EI,C.ei,eiT164,0),contour(N_EI,C.ei,eiUpper,0),
  contour(N_EIC,C.eic,eicLeft,0,true),contour(N_EICPEP,C.eicpep,eicPepLeft,0,true),
  contour(N_EIPEP,C.eipep,eiPepLeftPeak,0),contour(N_EIPEP,C.eipep,eiPepEnvelope,0,false,1.7),contour(N_EIPEP,C.eipep,eiPepT164,0,false,1.7),contour(N_EIPEP,C.eipep,eiPepMiddle,0,false,1.7),contour(N_EIPEP,C.eipep,eiPepRight,0,false,1.7),
  dashed(g427Path,0),leader(leaderT164),leader(leaderEIN),theo(theoLeft,0),
  contour(N_EIC,C.eic,eicRight,1,true),contour(N_EI,C.ei,eiRightPeak,1),contour(N_EICPEP,C.eicpep,eicPepRight,1,true),contour(N_EIPEP,C.eipep,eiPepRightPeak,1),
  dashed(i426Path,1),theo(theoRight,1)
 ]};
echarts.init(document.getElementById('c'),null,{renderer:'canvas'}).setOption(option);
</script></body></html>
